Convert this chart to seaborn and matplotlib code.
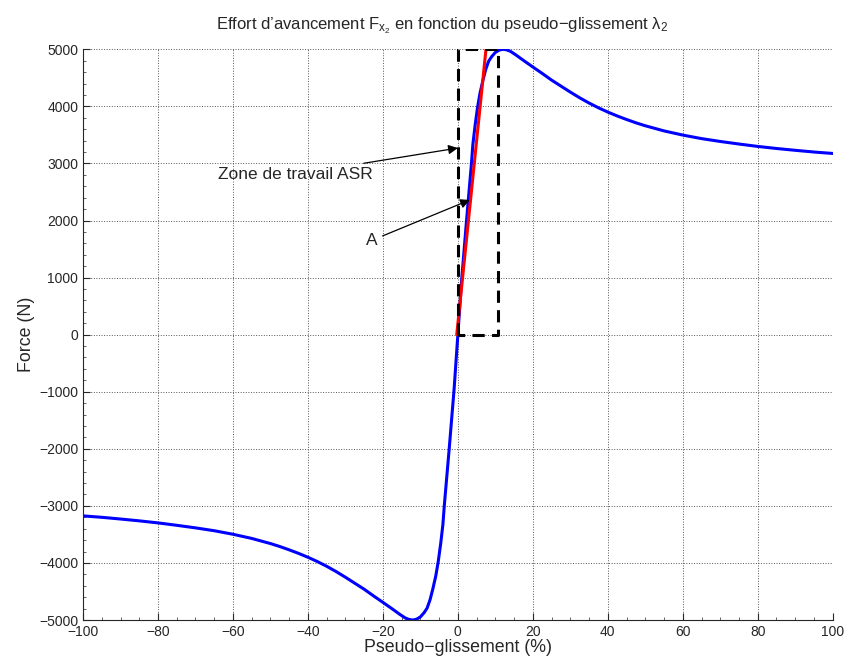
import numpy as np
import pandas as pd
import matplotlib
matplotlib.use("Agg")
import matplotlib.pyplot as plt
import seaborn as sns

# valeurs (pseudo-glissement en %, effort en N)
slip = [-100, -95, -90, -85, -80, -75, -70, -65, -60, -55, -50, -47.5, -45, -42.5, -40, -37.5, -35,
        -32.5, -30, -27.5, -25, -22.5, -20, -17.5, -15.5, -14, -13, -12,
        -11, -10, -9, -8.2, -7.4, -6.7, -5.9, -5.25, -4.6, -4.0, -3.6, -2.3, -1, 0,
        1, 2.3, 3.6, 4.0, 4.6, 5.25, 5.9, 6.7, 7.4, 8.2, 9, 10, 11, 12, 13, 14, 15.5,
        17.5, 20, 22.5, 25, 27.5, 30, 32.5, 35, 37.5, 40, 42.5, 45, 47.5, 50, 55, 60, 65, 70,
        75, 80, 85, 90, 95, 100]
force = [-3175, -3200, -3230, -3262, -3298, -3340, -3385, -3435, -3497, -3570, -3660, -3712, -3770, -3832, -3900, -3975, -4058,
         -4150, -4250, -4355, -4460, -4577, -4690, -4805, -4900, -4965, -4990, -5000,
         -4985, -4945, -4870, -4790, -4640, -4460, -4230, -3980, -3670, -3330, -2980, -1990, -950, 0,
         950, 1990, 2980, 3330, 3670, 3980, 4230, 4460, 4640, 4790, 4870, 4945, 4985, 5000, 4990, 4965, 4900,
         4805, 4690, 4577, 4460, 4355, 4250, 4150, 4058, 3975, 3900, 3832, 3770, 3712, 3660, 3570, 3497, 3435, 3385,
         3340, 3298, 3262, 3230, 3200, 3175]

# droite rouge (pente a l'origine)
tan_x = [-0.3, 7.5]
tan_y = [0, 5000]

# zone de travail ASR
zone_x = [0, 0, 10.7, 10.7, 0]
zone_y = [0, 5000, 5000, 0, 0]

xticks = list(range(-100, 101, 20))
yticks = list(range(-5000, 5001, 1000))

sns.set_style("ticks")
plt.rcParams['font.family'] = ['Liberation Sans', 'DejaVu Sans']
plt.rcParams['mathtext.fontset'] = 'custom'
plt.rcParams['mathtext.rm'] = 'Liberation Sans'
plt.rcParams['mathtext.it'] = 'Liberation Sans'

fig = plt.figure(figsize=(8.49, 6.66), dpi=100)
ax = fig.add_axes([0.0978, 0.069, 0.883, 0.857])

df = pd.DataFrame({'slip': slip, 'force': force})
sns.lineplot(data=df, x='slip', y='force', ax=ax, color='blue', lw=2.2, sort=False)
sns.lineplot(x=tan_x, y=tan_y, ax=ax, color='red', lw=2.2, sort=False)
ax.plot(zone_x, zone_y, color='black', ls=(0, (4, 2.4)), lw=2.2)

ax.annotate('Zone de travail ASR', xy=(0, 3270), xytext=(-22.6, 2810),
            ha='right', va='center', fontsize=12.5,
            arrowprops=dict(arrowstyle='-|>', color='black', lw=0.9,
                            mutation_scale=14, shrinkA=1, shrinkB=0))
ax.annotate('A', xy=(3.2, 2360), xytext=(-21.3, 1655),
            ha='right', va='center', fontsize=12.5,
            arrowprops=dict(arrowstyle='-|>', color='black', lw=0.9,
                            mutation_scale=14, shrinkA=1, shrinkB=0))

ax.set_xlim(-100, 100)
ax.set_ylim(-5000, 5000)
ax.set_xticks(xticks)
ax.set_yticks(yticks)
ax.minorticks_on()
ax.tick_params(which='major', direction='in', length=5, width=0.8, labelsize=10)
ax.tick_params(which='minor', direction='in', length=2, width=0.5)
ax.grid(True, which='major', ls=':', color='#555555', lw=0.7)
sns.despine(ax=ax)

ax.set_xlabel(u'Pseudo\u2212glissement (%)', fontsize=12.8, labelpad=0)
ax.set_ylabel('Force (N)', fontsize=12.8, labelpad=3)
ax.set_title(u"Effort d\u2019avancement F$_{x_2}$ en fonction du pseudo\u2212glissement $\\lambda_2$",
             fontsize=12, pad=14, x=0.479)

fig.savefig('out.png', dpi=100)
